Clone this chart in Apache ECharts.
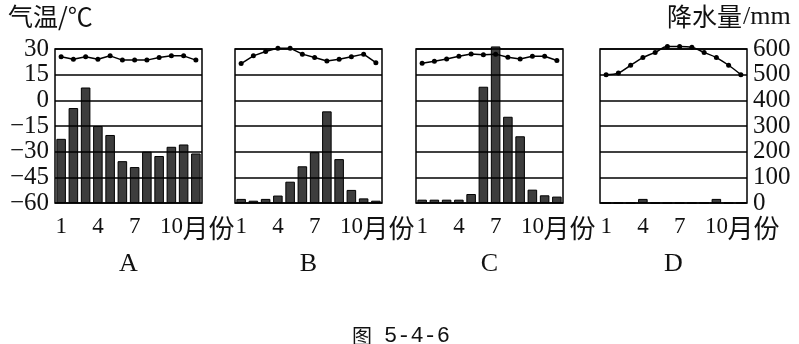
<!DOCTYPE html>
<html>
<head>
<meta charset="utf-8">
<script src="https://cdn.jsdelivr.net/npm/echarts@6/dist/echarts.min.js"></script>
<style>
html,body{margin:0;padding:0;background:#fff;}
#chart{width:799px;height:344px;}
</style>
</head>
<body>
<div id="chart"></div>
<script>
const months = ['1','2','3','4','5','6','7','8','9','10','11','12'];
const panelNames = ['A','B','C','D'];
const tempTicks = [-60, 30, 15];     // min, max, interval (°C)
const precipTicks = [0, 600, 100];   // min, max, interval (mm)

const tempA = [25.5, 24, 25.5, 24, 26, 23.5, 23.5, 23.5, 25, 26, 26, 23.5];
const precipA = [250, 370, 450, 300, 265, 163, 140, 200, 183, 219, 228, 193];
const tempB = [21.5, 26, 28.5, 30.5, 30.5, 27, 25, 23, 24, 25.5, 27, 22];
const precipB = [16, 9, 16, 29, 83, 143, 198, 357, 171, 51, 18, 9];
const tempC = [21.7, 22.9, 24.2, 25.8, 27.1, 26.7, 27, 25.2, 24.2, 25.8, 25.8, 23.3];
const precipC = [13, 13, 13, 13, 35, 453, 610, 336, 260, 52, 30, 25];
const tempD = [15, 16, 20.5, 25, 28, 31.5, 31.5, 31, 28, 25, 20.5, 15];
const precipD = [0, 0, 0, 16, 0, 0, 0, 0, 0, 16, 0, 0];

const temps = [tempA, tempB, tempC, tempD];
const precips = [precipA, precipB, precipC, precipD];

const SERIF = '"Liberation Serif","DejaVu Serif",serif';
const CJK = '"Noto Sans CJK SC",sans-serif';
const lefts = [55, 235, 416, 600];
const W = 147, TOP = 49, H = 154;

const chart = echarts.init(document.getElementById('chart'), null, {renderer:'canvas'});

const grids = [], xAxes = [], yAxes = [], series = [], texts = [];
for (let i = 0; i < 4; i++) {
  grids.push({left: lefts[i], top: TOP, width: W, height: H, show: true,
    borderColor: '#000', borderWidth: 1.5, backgroundColor: 'transparent'});
  xAxes.push({
    type: 'category', gridIndex: i, data: months, boundaryGap: true,
    axisLine: {show: false}, axisTick: {show: false}, splitLine: {show: false},
    axisLabel: {
      interval: (idx) => idx % 3 === 0,
      hideOverlap: false,
      margin: 12, color: '#111', fontFamily: SERIF, fontSize: 23
    }
  });
  yAxes.push({
    type: 'value', gridIndex: i, position: 'left',
    min: tempTicks[0], max: tempTicks[1], interval: tempTicks[2],
    axisLine: {show: false}, axisTick: {show: false},
    splitLine: {show: true, lineStyle: {color: '#000', width: 1.5}},
    axisLabel: {show: i === 0, margin: 6, color: '#111', fontFamily: SERIF, fontSize: 25,
      formatter: (v) => String(v).replace('-', '\u2212')},
    z: 3
  });
  yAxes.push({
    type: 'value', gridIndex: i, position: 'right',
    min: precipTicks[0], max: precipTicks[1], interval: precipTicks[2],
    axisLine: {show: false}, axisTick: {show: false}, splitLine: {show: false},
    axisLabel: {show: i === 3, margin: 6, color: '#111', fontFamily: SERIF, fontSize: 25}
  });
  series.push({
    type: 'bar', xAxisIndex: i, yAxisIndex: 2 * i + 1, data: precips[i],
    barWidth: '78%', clip: false, silent: true,
    itemStyle: {color: '#3d3d3d', borderColor: '#000', borderWidth: 1}
  });
  series.push({
    type: 'line', xAxisIndex: i, yAxisIndex: 2 * i, data: temps[i],
    smooth: i === 3 ? 0.35 : false, clip: false, z: 5, silent: true,
    symbol: 'circle', symbolSize: 5,
    itemStyle: {color: '#000'}, lineStyle: {color: '#000', width: 1.5}
  });
  // "月份" unit suffix after the "10" tick label
  texts.push({type: 'text', x: lefts[i] + W * 9.5 / 12 + 11, y: 228,
    style: {text: '月份', font: '26px ' + CJK, fill: '#111',
      textAlign: 'left', textVerticalAlign: 'middle'}});
  texts.push({type: 'text', x: lefts[i] + W / 2, y: 264,
    style: {text: panelNames[i], font: '26px ' + SERIF, fill: '#111',
      textAlign: 'center', textVerticalAlign: 'middle'}});
}

texts.push({type: 'text', x: 8, y: 16,
  style: {text: '气温/℃', font: '25px ' + CJK, fill: '#111', textAlign: 'left', textVerticalAlign: 'middle'}});
texts.push({type: 'text', x: 742, y: 16, style: {text: '降水量', font: '25px ' + CJK, fill: '#111', textAlign: 'right', textVerticalAlign: 'middle'}});
texts.push({type: 'text', x: 743, y: 17, style: {text: '/mm', font: '26px ' + SERIF, fill: '#111', textAlign: 'left', textVerticalAlign: 'middle'}});
texts.push({type: 'text', x: 372, y: 336, style: {text: '图', font: '20px ' + CJK, fill: '#111', textAlign: 'right', textVerticalAlign: 'middle'}});
texts.push({type: 'text', x: 384, y: 336, style: {text: '5-4-6', font: '22px "Liberation Mono",monospace', fill: '#111', textAlign: 'left', textVerticalAlign: 'middle'}});

chart.setOption({
  animation: false,
  backgroundColor: '#fff',
  grid: grids, xAxis: xAxes, yAxis: yAxes, series: series,
  graphic: texts
});
</script>
</body>
</html>
